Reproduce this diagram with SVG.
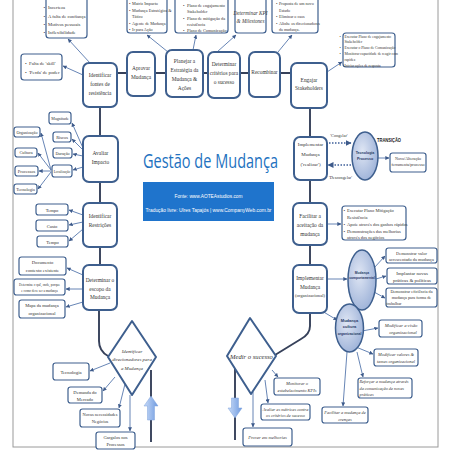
<svg xmlns="http://www.w3.org/2000/svg" width="452" height="452" viewBox="0 0 452 452">
<defs>
<marker id="ah" viewBox="0 0 6 6" refX="5.5" refY="3" markerWidth="4" markerHeight="4" orient="auto" markerUnits="userSpaceOnUse"><path d="M0,0L6,3L0,6z" fill="#3d5a8a"/></marker>
<marker id="ah2" viewBox="0 0 6 6" refX="5.5" refY="3" markerWidth="6" markerHeight="6" orient="auto" markerUnits="userSpaceOnUse"><path d="M0,0L6,3L0,6z" fill="#3d5a8a"/></marker>
<radialGradient id="eg" cx="0.4" cy="0.4" r="0.7"><stop offset="0" stop-color="#dfe6f4"/><stop offset="1" stop-color="#98aed6"/></radialGradient>
<linearGradient id="bg" x1="0" y1="0" x2="1" y2="0"><stop offset="0" stop-color="#c9dbf7"/><stop offset="1" stop-color="#6e9ae0"/></linearGradient>
<style>
.m{fill:#fff;stroke:#3e5f8e;stroke-width:2}
.b{fill:#fff;stroke:#3e5f8e;stroke-width:1.2}
.c{fill:none;stroke:#36415a;stroke-width:1.9}
.a{fill:none;stroke:#5677ad;stroke-width:0.9;marker-end:url(#ah)}
.d{fill:none;stroke:#3e5f99;stroke-width:1.4;stroke-dasharray:1.5 1.5;marker-end:url(#ah2)}
.t{font-family:"Liberation Serif","DejaVu Serif",serif;fill:#333;text-anchor:middle}
.l{text-anchor:start}
.i{font-style:italic}
.e{fill:url(#eg);stroke:#3e5f8e;stroke-width:1.5}
.et{font-family:"Liberation Sans",sans-serif;font-weight:bold;fill:#1f3864;text-anchor:middle}
.ba{fill:url(#bg);stroke:#7fa3dc;stroke-width:0.5}
</style>
</defs>
<rect width="452" height="452" fill="#fff"/>
<rect x="13" y="-2" width="425" height="449" fill="none" stroke="#9a9a9a" stroke-width="1"/>

<g id="connectors">
<path class="c" d="M117,73H291"/>
<path class="c" d="M310,108V137M310,180V203M310,245V265"/>
<path class="c" d="M310,313V326Q310,334 301,339L275,355"/>
<path class="c" d="M100,107V136M100,182V203M100,247V265"/>
<path class="c" d="M99,310V341Q99,351 108,356"/>
<path class="c" d="M151,370V442" stroke="#555" stroke-width="1.4"/>
<path class="c" d="M235,366V440" stroke="#555" stroke-width="1.4"/>
<path class="a" d="M90,63L68,39"/>
<path class="a" d="M83,75L63,66"/>
<path class="a" d="M168,52L147,35"/>
<path class="a" d="M193,50L196,35"/>
<path class="a" d="M217,52L236,35"/>
<path class="a" d="M278,52L292,35"/>
<path class="a" d="M327,72L342,62"/>
<path class="a" d="M83,148L72,123"/>
<path class="a" d="M83,150L72,139"/>
<path class="a" d="M83,156L73,154"/>
<path class="a" d="M83,167L73,170"/>
<path class="a" d="M51,170L41,133"/>
<path class="a" d="M51,170L38,153"/>
<path class="a" d="M51,171L39,171"/>
<path class="a" d="M51,172L38,189"/>
<path class="a" d="M83,215L69,210"/>
<path class="a" d="M83,222L69,225"/>
<path class="a" d="M83,229L69,241"/>
<path class="a" d="M83,275L67,268"/>
<path class="a" d="M83,289L66,289"/>
<path class="a" d="M83,302L66,307"/>
<path class="a" d="M110,363L90,371"/>
<path class="a" d="M115,377L103,391"/>
<path class="a" d="M125,384L119,408"/>
<path class="a" d="M130,395V431"/>
<path class="d" d="M329,143H351"/>
<path class="d" d="M351,165H328"/>
<path class="a" d="M378,158H389"/>
<path class="a" d="M327,224H341"/>
<path class="a" d="M327,279H347"/>
<path class="a" d="M374,268L385,256"/>
<path class="a" d="M376,279L386,276"/>
<path class="a" d="M374,292L385,298"/>
<path class="a" d="M322,311L337,320"/>
<path class="a" d="M362,331L378,328"/>
<path class="a" d="M356,347L373,354"/>
<path class="a" d="M357,352L363,377"/>
<path class="a" d="M347,352L343,406"/>
<path class="a" d="M272,370L278,377"/>
<path class="a" d="M265,380L268,403"/>
<path class="a" d="M253,392V427"/>
<path class="ba" d="M151,396L158,406H154.5V420H147.5V406H144Z"/>
<path class="ba" d="M235,418L242,408H238.5V398H231.5V408H228Z"/>
</g>

<g id="n-fontes"><rect class="m" x="83" y="63" width="34" height="44" rx="6"/>
<text class="t" font-size="5.4"><tspan x="100" y="77">Identificar</tspan><tspan x="100" y="86">fontes de</tspan><tspan x="100" y="95">resistência</tspan></text></g>
<g id="n-aprovar"><rect class="m" x="127" y="52" width="28" height="44" rx="6"/>
<text class="t" font-size="5.4"><tspan x="141" y="70">Aprovar</tspan><tspan x="141" y="79">Mudança</tspan></text></g>
<g id="n-planejar"><rect class="m" x="166" y="50" width="37" height="47" rx="6"/>
<text class="t" font-size="5.4"><tspan x="184.5" y="63">Planejar a</tspan><tspan x="184.5" y="72">Estratégia da</tspan><tspan x="184.5" y="81">Mudança &amp;</tspan><tspan x="184.5" y="90">Ações</tspan></text></g>
<g id="n-criterios"><rect class="m" x="208" y="52" width="32" height="46" rx="6"/>
<text class="t" font-size="5.4"><tspan x="224" y="66">Determinar</tspan><tspan x="224" y="75">critérios para</tspan><tspan x="224" y="84">o sucesso</tspan></text></g>
<g id="n-recombinar"><rect class="m" x="249" y="52" width="31" height="45" rx="6"/>
<text class="t" font-size="5.4" x="264.5" y="74">Recombinar</text></g>
<g id="n-engajar"><rect class="m" x="291" y="63" width="36" height="45" rx="6"/>
<text class="t" font-size="5.4"><tspan x="309" y="82">Engajar</tspan><tspan x="309" y="90">Stakeholders</tspan></text></g>
<g id="n-implementar"><rect class="m" x="294" y="137" width="33" height="43" rx="6"/>
<text class="t" font-size="5" x="310.5" y="145.5">Implementar</text>
<text class="t" font-size="5" x="310.5" y="155.5">Mudança</text>
<text class="t" font-size="5" x="310.5" y="166">('realizar')</text></g>
<g id="n-facilitar"><rect class="m" x="293" y="203" width="34" height="42" rx="6"/>
<text class="t" font-size="5.4"><tspan x="310" y="218">Facilitar a</tspan><tspan x="310" y="227">aceitação da</tspan><tspan x="310" y="235.5">mudança</tspan></text></g>
<g id="n-implorg"><rect class="m" x="293" y="265" width="34" height="48" rx="6"/>
<text class="t" font-size="5.4"><tspan x="310" y="280">Implementar</tspan><tspan x="310" y="288.5">Mudança</tspan><tspan x="310" y="297" font-size="4.6">(organizacional)</tspan></text></g>
<g id="n-avaliar"><rect class="m" x="83" y="136" width="35" height="46" rx="6"/>
<text class="t" font-size="5.4"><tspan x="100.5" y="155">Avaliar</tspan><tspan x="100.5" y="163.5">Impacto</tspan></text></g>
<g id="n-restricoes"><rect class="m" x="83" y="203" width="34" height="44" rx="6"/>
<text class="t" font-size="5.4"><tspan x="100" y="218">Identificar</tspan><tspan x="100" y="227">Restrições</tspan></text></g>
<g id="n-escopo"><rect class="m" x="83" y="265" width="34" height="45" rx="6"/>
<text class="t" font-size="5.4"><tspan x="100" y="282">Determinar o</tspan><tspan x="100" y="290.5">escopo da</tspan><tspan x="100" y="299">Mudança</tspan></text></g>
<g id="n-direcionadores"><path class="m" stroke-linejoin="round" d="M132,321L156,357L132,395L108,357Z"/>
<text class="t i" font-size="4.9"><tspan x="132" y="353">Identificar</tspan><tspan x="132" y="361">direcionadores para</tspan><tspan x="132" y="369.5">a Mudança</tspan></text></g>
<g id="n-medir"><path class="m" stroke-linejoin="round" d="M250,318L276,356L251,394L227,356Z"/>
<text class="t i" font-size="6.6" x="251.5" y="359">Medir o sucesso</text></g>

<g id="n-resist-list"><rect class="b" x="46" y="-3" width="41" height="41" rx="3"/>
<text class="t l" font-size="4.7"><tspan x="43.5" y="9">•</tspan><tspan x="48" y="9">Incerteza</tspan><tspan x="43.5" y="17.5">•</tspan><tspan x="48" y="17.5">A falta de confiança</tspan><tspan x="43.5" y="26">•</tspan><tspan x="48" y="26">Motivos pessoais</tspan><tspan x="43.5" y="34">•</tspan><tspan x="48" y="34">Inflexibilidade</tspan></text></g>
<g id="n-skill"><rect class="b" x="21" y="54" width="41" height="26" rx="3"/>
<text class="t l" font-size="4.8"><tspan x="25" y="65">•</tspan><tspan x="29" y="65">Falta de 'skill'</tspan><tspan x="25" y="73.5">•</tspan><tspan x="29" y="73.5">'Perda' de poder</tspan></text></g>
<g id="n-matriz"><rect class="b" x="127" y="-3" width="40" height="36" rx="3"/>
<text class="t l" font-size="4.2"><tspan x="129" y="5">•</tspan><tspan x="132" y="5">Matriz Impacto</tspan><tspan x="129" y="11.5">•</tspan><tspan x="132" y="11.5">Mudança Estratégica &amp;</tspan><tspan x="132" y="17.5">Tático</tspan><tspan x="129" y="24.5">•</tspan><tspan x="132" y="24.5">Agente de Mudança</tspan><tspan x="129" y="30.5">•</tspan><tspan x="132" y="30.5">Ir para Ação</tspan></text></g>
<g id="n-planos"><rect class="b" x="175" y="-3" width="53" height="36" rx="3"/>
<text class="t l" font-size="4.3"><tspan x="183" y="6.5">•</tspan><tspan x="187" y="6.5">Plano de engajamento</tspan><tspan x="187" y="13">Stakeholder</tspan><tspan x="183" y="19.5">•</tspan><tspan x="187" y="19.5">Plano de mitigação da</tspan><tspan x="187" y="25.5">resistência</tspan><tspan x="183" y="32">•</tspan><tspan x="187" y="32">Plano de Comunicação</tspan></text></g>
<g id="n-kpi"><rect class="b" x="235" y="-3" width="31" height="36" rx="3"/>
<text class="t i" font-size="5.2"><tspan x="250.5" y="15">Determinar KPI</tspan><tspan x="250.5" y="22.5">&amp; Milestones</tspan></text></g>
<g id="n-proposta"><rect class="b" x="272" y="-3" width="46" height="36" rx="3"/>
<text class="t l" font-size="4.1"><tspan x="276" y="5">•</tspan><tspan x="279" y="5">Proposta de um novo</tspan><tspan x="279" y="11.5">Estado</tspan><tspan x="276" y="18">•</tspan><tspan x="279" y="18">Eliminar o caos</tspan><tspan x="276" y="24.5">•</tspan><tspan x="279" y="24.5">Alinhe os direcionadores</tspan><tspan x="279" y="31">da mudança.</tspan></text></g>
<g id="n-executar"><rect class="b" x="343" y="33" width="52" height="34" rx="3"/>
<text class="t l" font-size="3.7"><tspan x="339.5" y="37.5">•</tspan><tspan x="344.5" y="37.5">Executar Plano de engajamento</tspan><tspan x="344.5" y="43">Stakeholder</tspan><tspan x="339.5" y="49">•</tspan><tspan x="344.5" y="49">Executar o Plano de Comunicação</tspan><tspan x="339.5" y="55">•</tspan><tspan x="344.5" y="55">Monitorar capacidade de reagir com</tspan><tspan x="344.5" y="60.5">rapidez</tspan><tspan x="339.5" y="66.5">•</tspan><tspan x="344.5" y="66.5">Iniciar ações de resposta</tspan></text></g>

<g id="n-magnitude"><rect class="b" x="49" y="112" width="22" height="12" rx="2.5"/><text class="t" font-size="4" x="60" y="119.5">Magnitude</text></g>
<g id="n-riscos"><rect class="b" x="53" y="132" width="18" height="10" rx="2.5"/><text class="t" font-size="4.4" x="62" y="138.5">Riscos</text></g>
<g id="n-duracao"><rect class="b" x="53" y="148" width="19" height="10" rx="2.5"/><text class="t" font-size="4.2" x="62.5" y="154.5">Duração</text></g>
<g id="n-localizacao"><rect class="b" x="52" y="165" width="20" height="12" rx="2.5"/><text class="t" font-size="3.4" x="62" y="172.5">Localização</text></g>
<g id="n-organizacao"><rect class="b" x="14" y="127" width="26" height="10" rx="2.5"/><text class="t" font-size="4.2" x="27" y="133.5">Organização</text></g>
<g id="n-cultura"><rect class="b" x="15" y="148" width="22" height="9" rx="2.5"/><text class="t" font-size="4.4" x="26" y="154">Cultura</text></g>
<g id="n-processos"><rect class="b" x="15" y="166" width="23" height="10" rx="2.5"/><text class="t" font-size="4.4" x="26.5" y="172.5">Processos</text></g>
<g id="n-tecnologia1"><rect class="b" x="14" y="184" width="23" height="10" rx="2.5"/><text class="t" font-size="4.2" x="25.5" y="190.5">Tecnologia</text></g>

<g id="n-tempo1"><rect class="b" x="36" y="204" width="32" height="11" rx="2.5"/><text class="t" font-size="4.6" x="52" y="211.5">Tempo</text></g>
<g id="n-custo"><rect class="b" x="36" y="220" width="32" height="11" rx="2.5"/><text class="t" font-size="4.6" x="52" y="227.5">Custo</text></g>
<g id="n-tempo2"><rect class="b" x="37" y="236" width="31" height="11" rx="2.5"/><text class="t" font-size="4.6" x="52.5" y="243.5">Tempo</text></g>

<g id="n-documento"><rect class="b" x="19" y="257" width="47" height="18" rx="2.5"/><text class="t" font-size="4.6"><tspan x="42.5" y="264">Documento</tspan><tspan x="42.5" y="272">contexto existente</tspan></text></g>
<g id="n-determine"><rect class="b" x="14" y="279" width="51" height="16" rx="2.5"/><text class="t" font-size="3.3"><tspan x="39.5" y="286">Determine o quê, onde, porque</tspan><tspan x="39.5" y="291.5">e como deve ser a mudança</tspan></text></g>
<g id="n-mapa"><rect class="b" x="19" y="300" width="46" height="18" rx="2.5"/><text class="t" font-size="4.6"><tspan x="42" y="307">Mapa da mudança</tspan><tspan x="42" y="314.5">organizacional</tspan></text></g>

<g id="n-tecnologia2"><rect class="b" x="53" y="363" width="36" height="17" rx="2.5"/><text class="t" font-size="4.8" x="71" y="373.5">Tecnologia</text></g>
<g id="n-demanda"><rect class="b" x="68" y="387" width="34" height="16" rx="2.5"/><text class="t" font-size="4.6"><tspan x="85" y="393.5">Demanda do</tspan><tspan x="85" y="400.5">Mercado</tspan></text></g>
<g id="n-novas"><rect class="b" x="80" y="409" width="40" height="18" rx="2.5"/><text class="t" font-size="4.4"><tspan x="100" y="416">Novas necessidades</tspan><tspan x="100" y="423">Negócios</tspan></text></g>
<g id="n-gargalos"><rect class="b" x="96" y="432" width="39" height="17" rx="2.5"/><text class="t" font-size="4.6"><tspan x="115.5" y="439">Gargalos nos</tspan><tspan x="115.5" y="446">Processos</tspan></text></g>

<g id="n-tecproc"><ellipse class="e" cx="365" cy="156" rx="13" ry="24"/><text class="et" font-size="3.6"><tspan x="365" y="154">Tecnologia</tspan><tspan x="365" y="160">Processo</tspan></text></g>
<text class="t" font-size="4.3" x="339" y="136.5">'Congelar'</text>
<text class="t" font-size="4.3" x="340.5" y="179">'Descongelar'</text>
<text font-family="'Liberation Sans',sans-serif" font-weight="bold" font-size="4.6" fill="#222" x="377" y="142" textLength="24" lengthAdjust="spacingAndGlyphs">TRANSIÇÃO</text>
<g id="n-novo"><rect class="b" x="390" y="153" width="36" height="19" rx="2.5"/><text class="t" font-size="4.1"><tspan x="408" y="159.5">Novo/Alteração</tspan><tspan x="408" y="166">ferramenta/processo</tspan></text></g>

<g id="n-aceitacao-list"><rect class="b" x="342" y="206" width="64" height="34" rx="3"/>
<text class="t l" font-size="4.5"><tspan x="343.5" y="211.5">•</tspan><tspan x="347" y="211.5">Executar Plano Mitigação</tspan><tspan x="347" y="218.5">Resistência</tspan><tspan x="343.5" y="225.5">•</tspan><tspan x="347" y="225.5">Apoie através dos ganhos rápidos</tspan><tspan x="343.5" y="232.5">•</tspan><tspan x="347" y="232.5">Demonstrações das melhorias</tspan><tspan x="347" y="239">através dos negócios</tspan></text></g>

<g id="n-comport"><ellipse class="e" cx="362" cy="280" rx="14" ry="30"/><text class="et" font-size="3.3"><tspan x="362" y="274">Mudança</tspan><tspan x="362" y="278.5">comportamental</tspan></text></g>
<g id="n-valor"><rect class="b" x="386" y="248" width="51" height="15" rx="2.5"/><text class="t" font-size="4.4"><tspan x="411.5" y="254.5">Demonstrar valor</tspan><tspan x="411.5" y="261">acrescentado da mudança</tspan></text></g>
<g id="n-implantar"><rect class="b" x="387" y="268" width="50" height="16" rx="2.5"/><text class="t" font-size="4.9"><tspan x="412" y="274.5">Implantar novas</tspan><tspan x="412" y="281.5">práticas &amp; políticas</tspan></text></g>
<g id="n-eficiencia"><rect class="b" x="386" y="288" width="51" height="19" rx="2.5"/><text class="t" font-size="4.2"><tspan x="411.5" y="292.5">Demonstrar eficiência da</tspan><tspan x="411.5" y="298.5">mudança para forma de</tspan><tspan x="394" y="304.5">trabalhar</tspan></text></g>

<g id="n-cultura-org"><ellipse class="e" cx="349.5" cy="328" rx="14" ry="24"/><text class="et" font-size="4"><tspan x="349.5" y="321.5">Mudança</tspan><tspan x="349.5" y="328">cultura</tspan><tspan x="349.5" y="334.5" font-size="3.4">organizacional</tspan></text></g>
<g id="n-visao"><rect class="b" x="379" y="320" width="43" height="17" rx="2.5"/><text class="t i" font-size="4.6"><tspan x="401" y="327">Modificar a visão</tspan><tspan x="403" y="334">organizacional</tspan></text></g>
<g id="n-valores"><rect class="b" x="374" y="349" width="44" height="17" rx="2.5"/><text class="t i" font-size="4.4"><tspan x="396" y="356">Modificar valores &amp;</tspan><tspan x="396" y="363">temas organizacional</tspan></text></g>
<g id="n-reforcar"><rect class="b" x="358" y="378" width="54" height="20" rx="2.5"/><text class="t l i" font-size="4.3"><tspan x="359.5" y="383">Reforçar a mudança através</tspan><tspan x="359.5" y="389.5">da comunicação de novas</tspan><tspan x="359.5" y="396">práticas</tspan></text></g>
<g id="n-crencas"><rect class="b" x="322" y="407" width="46" height="16" rx="2.5"/><text class="t i" font-size="4.4"><tspan x="345" y="413.5">Facilitar a mudança de</tspan><tspan x="345" y="420.5">crenças</tspan></text></g>
<g id="n-monitorar"><rect class="b" x="274" y="378" width="46" height="17" rx="2.5"/><text class="t i" font-size="4.5"><tspan x="297" y="385">Monitorar o</tspan><tspan x="297" y="392">estabelecimento KPIs</tspan></text></g>
<g id="n-avaliar-metricas"><rect class="b" x="261" y="404" width="49" height="16" rx="2.5"/><text class="t i" font-size="4.3"><tspan x="285.5" y="410.5">Avaliar as métricas contra</tspan><tspan x="285.5" y="417">os critérios de sucesso</tspan></text></g>
<g id="n-prover"><rect class="b" x="243" y="428" width="49" height="18" rx="2.5"/><text class="t i" font-size="4.6" x="267.5" y="439">Prover em melhorias</text></g>

<g id="title">
<text x="210.5" y="168" font-family="'Open Sans','Noto Sans',sans-serif" font-size="20" fill="#2372bf" text-anchor="middle" textLength="135" lengthAdjust="spacingAndGlyphs">Gestão de Mudança</text>
<rect x="143" y="182" width="131" height="39" fill="#1f74cc"/>
<text x="208.5" y="197.5" font-family="'Liberation Sans',sans-serif" font-size="4.6" fill="#fff" text-anchor="middle" textLength="68" lengthAdjust="spacingAndGlyphs">Fonte: www.AOTEAstudios.com</text>
<text x="208.5" y="212" font-family="'Liberation Sans',sans-serif" font-size="4.6" fill="#fff" text-anchor="middle" textLength="126" lengthAdjust="spacingAndGlyphs">Tradução livre: Ulres Tapajós | www.CompanyWeb.com.br</text>
</g>
</svg>
